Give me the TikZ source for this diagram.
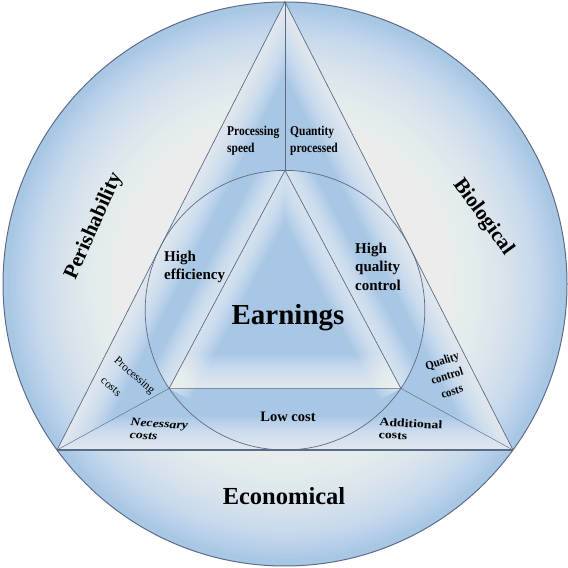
\documentclass[tikz,border=0pt]{standalone}
\usepackage{fontspec}
\setmainfont{Liberation Serif}
\usepackage{graphicx}
\definecolor{gblue}{RGB}{168,199,229}
\definecolor{gline}{RGB}{92,108,135}
\newcommand{\hs}[2]{\scalebox{#1}[1]{#2}}
\begin{document}
\begin{tikzpicture}[x=1pt,y=1pt,
  border/.style={draw=gline, line width=1pt},
  edge/.style={draw=gline, line width=0.7pt},
  fine/.style={draw=gline, line width=0.45pt},
  glow/.style={draw=white, opacity=0.055},
  txt/.style={inner sep=0pt, text=black},
  small/.style={txt, font=\fontsize{13.5}{17}\selectfont\bfseries, align=left},
  mid/.style={txt, font=\fontsize{15}{18.5}\selectfont\bfseries, align=left},
  big/.style={txt, font=\fontsize{21}{25}\selectfont\bfseries},
  tiny/.style={txt, font=\fontsize{11.5}{12.5}\selectfont\bfseries, align=left}
]
\useasboundingbox (0,0) rectangle (568,568);
% key points
\coordinate (O) at (285,284);
\coordinate (A) at (285,566);
\coordinate (B) at (57,118);
\coordinate (C) at (513,118);
\coordinate (I) at (285,257.8);
\coordinate (T) at (285,397.6);
\coordinate (P) at (169.1,179.6);
\coordinate (Q) at (400.9,179.6);
% outer ring: blue at the rim, fading to white inward
\fill[gblue] (O) circle[radius=282];
\foreach \r in {140,143,...,275}
  \fill[white, opacity=0.05] (O) circle[radius=\r];
% big triangle with glassy edges
\begin{scope}
  \clip (A)--(B)--(C)--cycle;
  \fill[gblue] (A)--(B)--(C)--cycle;
  \foreach \w in {3,6,...,66}
    \draw[glow, line width=\w pt] (A)--(B)--(C)--cycle;
\end{scope}
% inner circle glow along inner triangle sides
\begin{scope}
  \clip (I) circle[radius=139.8];
  \foreach \w in {3,6,...,48}
    \draw[glow, line width=\w pt] (P)--(T)--(Q);
\end{scope}
\begin{scope}
  \clip (T)--(P)--(Q)--cycle;
  \foreach \w in {3,6,...,66}
    \draw[glow, line width=\w pt] (P)--(Q);
\end{scope}
% lines
\draw[border] (O) circle[radius=282];
\draw[edge] (A)--(B);
\draw[edge] (A)--(C);
\draw[draw=gline, line width=1.3pt] (B)--(C);
\draw[edge] (I) circle[radius=139.8];
\draw[edge] (T)--(P)--(Q)--cycle;
\draw[fine] (A)--(T);
\draw[fine] (P)--(B);
\draw[fine] (Q)--(C);
% texts
\node[small, anchor=west] (ps) at (227,427.5) {\hs{0.85}{Processing}\\\hs{0.85}{speed}};
\node[small, anchor=west] (qp) at (290,427.5) {\hs{0.85}{Quantity}\\\hs{0.85}{processed}};
\node[mid, anchor=west] (he) at (164,301) {High\\efficiency};
\node[mid, anchor=west] (hq) at (355,301.5) {High\\quality\\control};
\node[txt, font=\fontsize{29}{33}\selectfont\bfseries] (earn) at (288,250) {Earnings};
\node[txt, font=\fontsize{14.5}{17}\selectfont\bfseries] (low) at (288,151) {Low cost};
\node[txt, font=\fontsize{24.5}{28}\selectfont\bfseries] (eco) at (284,72) {Economical};
\node[big, rotate=66] (per) at (94,342) {Perishability};
\node[big, rotate=-54] (bio) at (483,351) {Biological};
\node[txt, font=\fontsize{12}{16}\selectfont\bfseries, align=center, rotate=18] (qcc) at (447,192) {\hs{0.9}{Quality}\\\hs{0.9}{control}\\\hs{0.9}{costs}};
\node[txt, font=\fontsize{11.5}{14}\selectfont, rotate=-41] (pc1) at (134,192) {Processing};
\node[txt, font=\fontsize{11.5}{14}\selectfont, rotate=-41] (pc2) at (111,181) {costs};
\node[tiny, font=\fontsize{11.5}{12.5}\selectfont\bfseries\itshape, anchor=west, rotate=-3] (nc) at (130,139.5) {\hs{1.2}{Necessary}\\\hs{1.2}{costs}};
\node[tiny, anchor=west, rotate=-3] (ac) at (379,140) {\hs{1.2}{Additional}\\\hs{1.2}{costs}};
\end{tikzpicture}
\end{document}
